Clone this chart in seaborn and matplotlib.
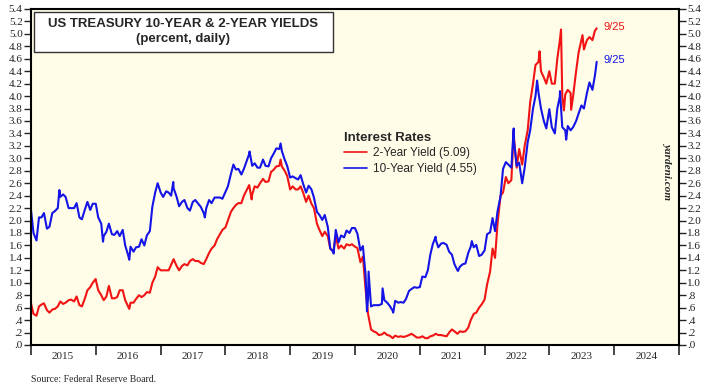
import pandas as pd
import numpy as np
import matplotlib
matplotlib.use("Agg")
import matplotlib.pyplot as plt
import matplotlib.dates as mdates
from matplotlib.lines import Line2D
from matplotlib.patches import Rectangle
import seaborn as sns

# semi-monthly readings (1st and 15th of each month)
ten_2015 = [2.17, 1.80, 1.68, 2.05, 2.05, 2.12, 1.87, 1.90, 2.12, 2.15, 2.20, 2.38,
            2.42, 2.38, 2.20, 2.20, 2.20, 2.28, 2.05, 2.02, 2.18, 2.30, 2.17, 2.27]
ten_2016 = [2.27, 2.05, 1.95, 1.75, 1.82, 1.95, 1.78, 1.77, 1.83, 1.75, 1.85, 1.60,
            1.45, 1.58, 1.50, 1.57, 1.58, 1.70, 1.60, 1.76, 1.83, 2.22, 2.45, 2.60]
ten_2017 = [2.45, 2.38, 2.47, 2.45, 2.40, 2.52, 2.38, 2.23, 2.30, 2.33, 2.20, 2.16,
            2.30, 2.33, 2.27, 2.22, 2.12, 2.20, 2.33, 2.28, 2.37, 2.37, 2.37, 2.35]
ten_2018 = [2.46, 2.55, 2.75, 2.90, 2.82, 2.83, 2.74, 2.83, 2.96, 3.07, 2.88, 2.92,
            2.85, 2.85, 2.98, 2.88, 2.87, 3.00, 3.08, 3.16, 3.15, 3.12, 2.98, 2.88]
ten_2019 = [2.69, 2.71, 2.68, 2.66, 2.73, 2.59, 2.45, 2.56, 2.50, 2.37, 2.14, 2.09,
            2.01, 2.09, 1.90, 1.55, 1.50, 1.85, 1.65, 1.76, 1.73, 1.84, 1.80, 1.88]
ten_2020 = [1.88, 1.79, 1.52, 1.59, 1.13, 0.75, 0.62, 0.64, 0.64, 0.64, 0.66, 0.72,
            0.68, 0.63, 0.55, 0.71, 0.68, 0.69, 0.68, 0.74, 0.87, 0.90, 0.93, 0.92]
ten_2021 = [0.93, 1.10, 1.09, 1.20, 1.45, 1.62, 1.69, 1.57, 1.63, 1.64, 1.61, 1.50,
            1.45, 1.30, 1.20, 1.26, 1.30, 1.31, 1.48, 1.58, 1.57, 1.61, 1.43, 1.45]
ten_2022 = [1.52, 1.78, 1.81, 2.04, 1.83, 2.15, 2.39, 2.83, 2.94, 2.90, 2.85, 3.30,
            2.88, 2.93, 2.60, 2.85, 3.26, 3.45, 3.80, 4.00, 4.05, 3.80, 3.60, 3.48]
ten_2023 = [3.79, 3.50, 3.40, 3.80, 3.99, 3.50, 3.45, 3.52, 3.45, 3.50, 3.60, 3.72,
            3.85, 3.80, 4.05, 4.22, 4.10, 4.33]

two_2015 = [0.67, 0.50, 0.47, 0.62, 0.65, 0.67, 0.56, 0.52, 0.57, 0.58, 0.62, 0.70,
            0.66, 0.68, 0.72, 0.73, 0.70, 0.78, 0.64, 0.62, 0.75, 0.88, 0.93, 1.00]
two_2016 = [1.05, 0.88, 0.80, 0.72, 0.78, 0.95, 0.75, 0.75, 0.77, 0.88, 0.88, 0.72,
            0.62, 0.68, 0.68, 0.74, 0.80, 0.77, 0.80, 0.85, 0.84, 1.00, 1.10, 1.25]
two_2017 = [1.20, 1.20, 1.20, 1.20, 1.29, 1.38, 1.27, 1.20, 1.27, 1.30, 1.28, 1.35,
            1.38, 1.35, 1.35, 1.32, 1.30, 1.38, 1.48, 1.55, 1.60, 1.70, 1.78, 1.85]
two_2018 = [1.89, 2.00, 2.14, 2.20, 2.25, 2.28, 2.28, 2.40, 2.49, 2.57, 2.42, 2.55,
            2.53, 2.60, 2.67, 2.62, 2.63, 2.78, 2.82, 2.87, 2.88, 2.87, 2.80, 2.72]
two_2019 = [2.50, 2.55, 2.50, 2.50, 2.55, 2.45, 2.30, 2.40, 2.27, 2.20, 1.95, 1.85,
            1.75, 1.82, 1.75, 1.55, 1.50, 1.75, 1.55, 1.60, 1.55, 1.62, 1.60, 1.62]
two_2020 = [1.58, 1.56, 1.33, 1.42, 0.90, 0.50, 0.25, 0.22, 0.20, 0.16, 0.17, 0.20,
            0.16, 0.15, 0.11, 0.15, 0.13, 0.14, 0.13, 0.14, 0.16, 0.18, 0.15, 0.12]
two_2021 = [0.12, 0.14, 0.11, 0.11, 0.14, 0.15, 0.18, 0.16, 0.16, 0.15, 0.14, 0.20,
            0.25, 0.22, 0.18, 0.22, 0.21, 0.22, 0.28, 0.40, 0.50, 0.52, 0.60, 0.65]
two_2022 = [0.73, 0.97, 1.18, 1.55, 1.40, 1.95, 2.40, 2.45, 2.70, 2.60, 2.65, 3.35,
            2.85, 3.15, 2.90, 3.20, 3.45, 3.90, 4.20, 4.50, 4.55, 4.40, 4.30, 4.20]
two_2023 = [4.40, 4.20, 4.20, 4.60, 4.89, 4.00, 4.03, 4.10, 4.05, 4.00, 4.40, 4.70,
            4.90, 4.75, 4.90, 4.95, 4.90, 5.05]

# last reading and short-lived peaks / troughs between the grid dates
last_date = "2023-09-25"
last_two = 5.09
last_ten = 4.55
ten_extra = [("2015-06-10", 2.49), ("2016-02-11", 1.66), ("2016-07-08", 1.37),
             ("2017-03-13", 2.62), ("2017-09-07", 2.05), ("2018-05-17", 3.11),
             ("2018-11-08", 3.24), ("2019-09-03", 1.47), ("2020-03-09", 0.54),
             ("2020-03-18", 1.18), ("2020-06-05", 0.91), ("2020-08-04", 0.52),
             ("2021-03-31", 1.74), ("2021-08-04", 1.19), ("2021-10-21", 1.67),
             ("2022-06-14", 3.48), ("2022-10-24", 4.25), ("2023-03-02", 4.08),
             ("2023-04-06", 3.30)]
two_extra = [("2015-12-31", 1.06), ("2016-07-08", 0.58), ("2018-05-29", 2.34),
             ("2018-11-08", 2.98), ("2022-06-14", 3.43), ("2022-11-07", 4.72),
             ("2023-03-08", 5.07), ("2023-03-24", 3.77), ("2023-05-04", 3.78),
             ("2023-07-07", 4.98)]

label_two = "2-Year Yield (5.09)"
label_ten = "10-Year Yield (4.55)"
red = "#F01414"
blue = "#1414E6"

grid = pd.date_range("2015-01-01", "2023-09-15", freq="SMS")


def build(values, extra, last, name):
    d = pd.DataFrame({"date": grid, "value": values})
    e = pd.DataFrame(extra, columns=["date", "value"])
    e["date"] = pd.to_datetime(e["date"])
    l = pd.DataFrame({"date": [pd.Timestamp(last_date)], "value": [last]})
    d = pd.concat([d, e, l]).drop_duplicates("date", keep="last").sort_values("date")
    d["series"] = name
    return d


ten = sum([ten_2015, ten_2016, ten_2017, ten_2018, ten_2019, ten_2020, ten_2021, ten_2022, ten_2023], [])
two = sum([two_2015, two_2016, two_2017, two_2018, two_2019, two_2020, two_2021, two_2022, two_2023], [])
df = pd.concat([build(two, two_extra, last_two, label_two),
                build(ten, ten_extra, last_ten, label_ten)])

sns.set_style("white")
plt.rcParams["font.family"] = ["Liberation Sans", "DejaVu Sans"]

fig = plt.figure(figsize=(7.12, 3.88), dpi=100)
ax = fig.add_axes([31 / 712, 1 - 345 / 388, 648 / 712, 336 / 388])
ax.set_facecolor("#FFFDE8")

sns.lineplot(data=df, x="date", y="value", hue="series", hue_order=[label_two, label_ten],
             palette=[red, blue], linewidth=1.5, legend=False, ax=ax, estimator=None, sort=False)

ax.set_xlim(pd.Timestamp("2015-01-01"), pd.Timestamp("2025-01-01"))
ax.set_ylim(0, 5.4)
ax.set_xlabel("")
ax.set_ylabel("")

# y ticks on both sides, ".2" style labels
yt = np.round(np.arange(0, 5.41, 0.2), 1)
ylabels = [f"{v:.1f}".lstrip("0") if v < 1 else f"{v:.1f}" for v in yt]
ax.set_yticks(yt)
ax.set_yticklabels(ylabels)
ax.tick_params(axis="y", which="both", left=True, right=True, labelleft=True, labelright=True,
               direction="out", length=5, width=1, pad=1, labelsize=8, colors="#222222")
for t in ax.get_yticklabels():
    t.set_fontfamily("Liberation Serif")

# years: ticks at year start, labels mid-year
ax.xaxis.set_major_locator(mdates.YearLocator())
ax.xaxis.set_major_formatter(plt.NullFormatter())
ax.xaxis.set_minor_locator(mdates.MonthLocator(bymonth=7, bymonthday=1))
ax.xaxis.set_minor_formatter(mdates.DateFormatter("%Y"))
ax.tick_params(axis="x", which="major", direction="out", length=7, width=1.2, bottom=True)
ax.tick_params(axis="x", which="minor", length=0, pad=5, labelsize=8)
for t in ax.xaxis.get_minorticklabels():
    t.set_fontfamily("Liberation Serif")

for s in ax.spines.values():
    s.set_color("black")
    s.set_linewidth(1.5)

# title box
ax.add_patch(Rectangle((34 / 712, 1 - 52 / 388), 299 / 712, 40 / 388, transform=fig.transFigure,
                       facecolor="white", edgecolor="#333333", linewidth=1, zorder=5))
fig.text(183 / 712, 1 - 24 / 388, "US TREASURY 10-YEAR & 2-YEAR YIELDS", ha="center", va="center",
         fontsize=9.5, fontweight="bold", zorder=6)
fig.text(183 / 712, 1 - 39 / 388, "(percent, daily)", ha="center", va="center",
         fontsize=9.5, fontweight="bold", zorder=6)

# legend
handles = [Line2D([], [], color=red, lw=1.2), Line2D([], [], color=blue, lw=1.2)]
leg = ax.legend(handles, [label_two, label_ten], title="Interest Rates", frameon=False,
                loc="upper left", bbox_to_anchor=(333 / 712, 1 - 121 / 388),
                bbox_transform=fig.transFigure, fontsize=8.5, handlelength=2.0,
                handletextpad=0.5, labelspacing=0.3, alignment="left",
                title_fontproperties={"weight": "bold", "size": 9.5})

# end labels
ax.annotate("9/25", xy=(pd.Timestamp(last_date), last_two), xytext=(5, 1), textcoords="offset points",
            color=red, fontsize=8, va="center")
ax.annotate("9/25", xy=(pd.Timestamp(last_date), last_ten), xytext=(5, 1), textcoords="offset points",
            color=blue, fontsize=8, va="center")

ax.text(0.983, 0.52, "yardeni.com", transform=ax.transAxes, rotation=270, ha="center", va="center",
        fontsize=8, fontstyle="italic", fontweight="bold", fontfamily="Liberation Serif")

fig.text(31 / 712, 1 - 379 / 388, "Source: Federal Reserve Board.", fontsize=7,
         fontfamily="Liberation Serif", va="center")

fig.savefig("out.png", dpi=100)
